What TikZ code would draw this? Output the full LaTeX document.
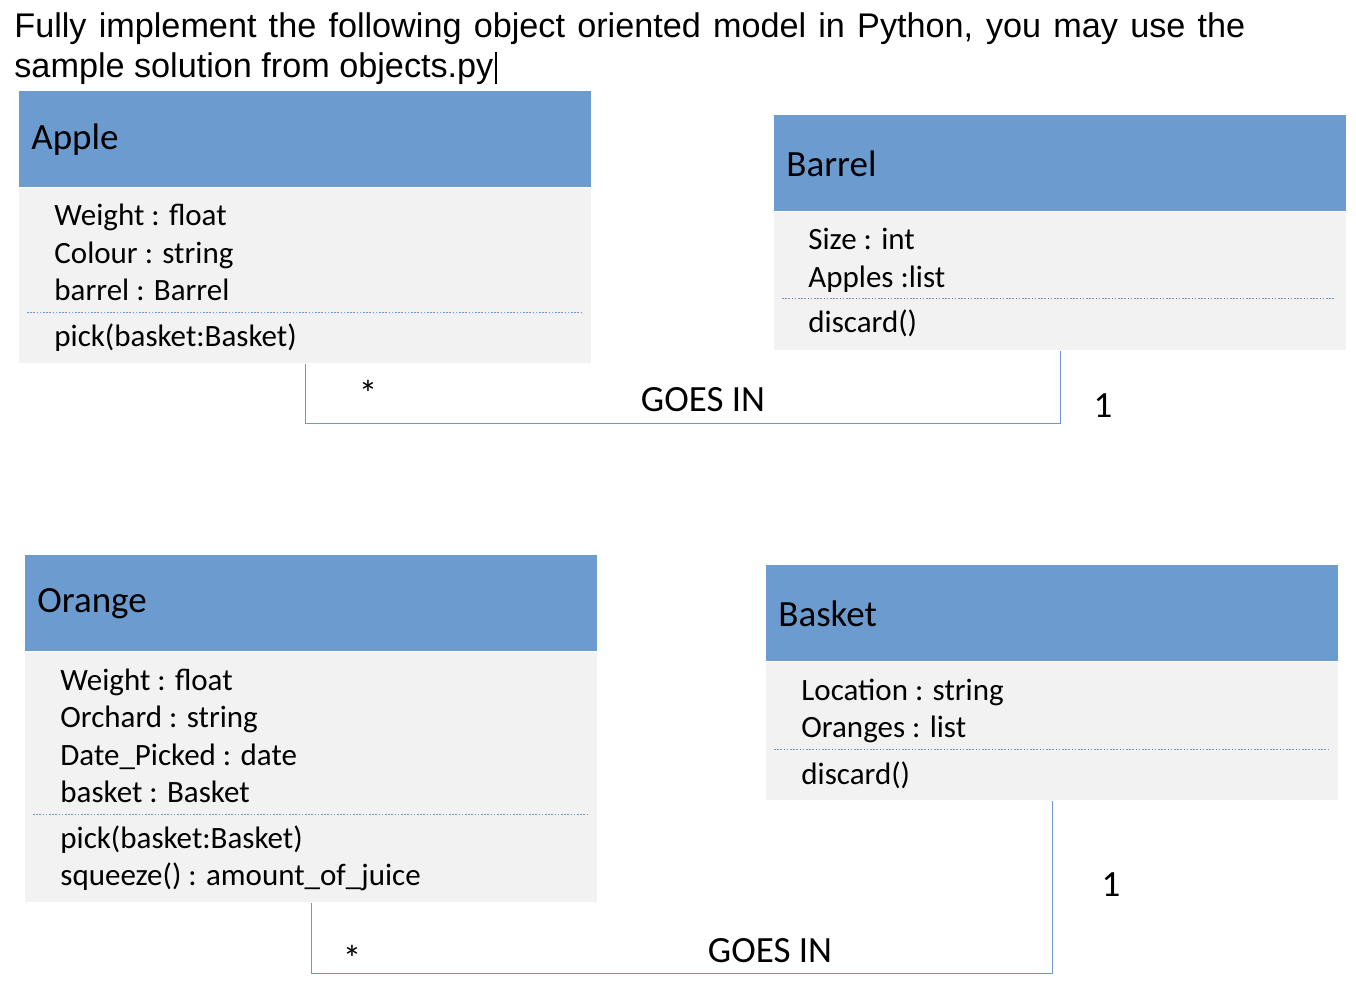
\documentclass[tikz,border=0pt]{standalone}
\usepackage{fontspec}
\setmainfont{Carlito}
\newfontfamily\headfont{Liberation Sans}
\usetikzlibrary{positioning}
\definecolor{headblue}{RGB}{108,155,208}
\definecolor{bodygray}{RGB}{242,242,242}
\definecolor{linkblue}{RGB}{112,150,205}

\begin{document}
\begin{tikzpicture}[x=0.5pt,y=-0.5pt,
  classhead/.style={fill=headblue,anchor=north west,minimum width=286pt,
    minimum height=48pt,text width=274pt,inner xsep=6pt,align=left,
    font=\fontsize{18.5}{22}\selectfont},
  classbody/.style={fill=bodygray,anchor=north west,minimum width=286pt,inner sep=0},
  member/.style={anchor=base west,inner sep=0,font=\fontsize{15.5}{18.75}\selectfont},
  sep/.style={linkblue,dash pattern=on 0.8pt off 0.8pt,line width=0.5pt},
  assoc/.style={linkblue,line width=0.8pt},
  mult/.style={anchor=base,inner sep=0,font=\fontsize{18.5}{22}\selectfont}]
  \useasboundingbox (0,0) rectangle (1356,994);
  % task text
  \node[anchor=base west,inner sep=0,text width=615.5pt,align=justify,
    font=\headfont\fontsize{17.1}{20}\selectfont] (task) at (14,38)
    {Fully implement the following object oriented model in Python, you may use the\linebreak sample solution from objects.py};
  \draw[line width=0.6pt] (496,52)--(496,84);

  % Apple
  \node[classhead] (appleHead) at (19,91) {Apple};
  \node[classbody,minimum height=87.5pt] (apple) at (appleHead.south west) {};
  \foreach \txt [count=\i] in {Weight : float, Colour : string, barrel : Barrel}
    \node[member] (apple-a\i) at (54,{226+37.5*(\i-1)}) {\txt};
  \draw[sep] (27,313)--(581,313);
  \node[member] (apple-op1) at (54,347) {pick(basket:Basket)};

  % Barrel
  \node[classhead] (barrelHead) at (774,115) {Barrel};
  \node[classbody,minimum height=69pt] (barrel) at (barrelHead.south west) {};
  \foreach \txt [count=\i] in {Size : int, Apples :list}
    \node[member] (barrel-a\i) at (808,{250+37.5*(\i-1)}) {\txt};
  \draw[sep] (782,299)--(1335,299);
  \node[member] (barrel-op1) at (808,333) {discard()};

  % Orange
  \node[classhead] (orangeHead) at (25,555) {Orange};
  \node[classbody,minimum height=125pt] (orange) at (orangeHead.south west) {};
  \foreach \txt [count=\i] in {Weight : float, Orchard : string, Date\_Picked : date, basket : Basket}
    \node[member] (orange-a\i) at (60,{690+37.5*(\i-1)}) {\txt};
  \draw[sep] (33,814)--(587,814);
  \foreach \txt [count=\i] in {pick(basket:Basket), squeeze() : amount\_of\_juice}
    \node[member] (orange-op\i) at (60,{848+37.5*(\i-1)}) {\txt};

  % Basket
  \node[classhead] (basketHead) at (766,565) {Basket};
  \node[classbody,minimum height=69pt] (basket) at (basketHead.south west) {};
  \foreach \txt [count=\i] in {Location : string, Oranges : list}
    \node[member] (basket-a\i) at (801,{700+37.5*(\i-1)}) {\txt};
  \draw[sep] (774,749)--(1328,749);
  \node[member] (basket-op1) at (801,784) {discard()};

  % associations
  \draw[assoc] (apple.south) -- ++(0,60) -| (barrel.south);
  \node[mult] (appleMany) at (368,407) {*};
  \node[mult] (appleGoes) at (703,412) {GOES IN};
  \node[mult] (barrelOne) at (1103,418) {1};

  \draw[assoc] (orange.south) -- ++(0,71) -| (basket.south);
  \node[mult] (orangeMany) at (352,971) {*};
  \node[mult] (orangeGoes) at (770,962) {GOES IN};
  \node[mult] (basketOne) at (1111,896) {1};
\end{tikzpicture}
\end{document}
